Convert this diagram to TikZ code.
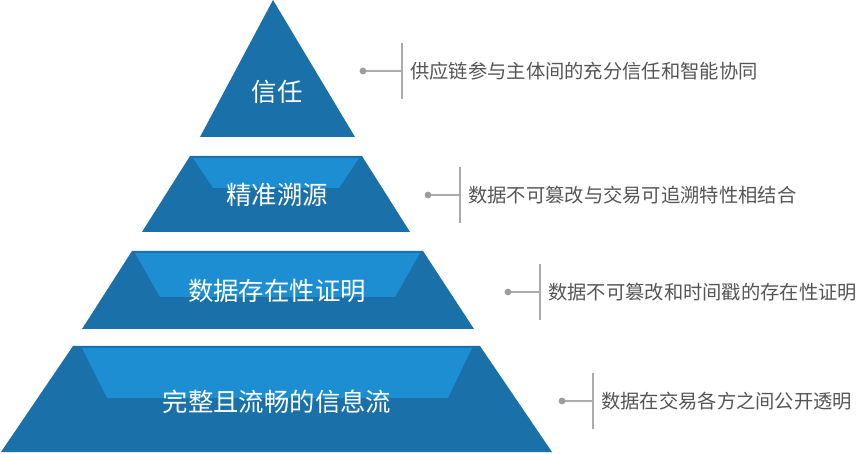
\documentclass[tikz,border=0pt]{standalone}
\usepackage{fontspec}
\usepackage{tikz}
\usetikzlibrary{positioning}
\newfontfamily\cjk{Noto Sans CJK SC}
\definecolor{tierdark}{HTML}{1A70A9}
\definecolor{tierlight}{HTML}{1E8ED2}
\definecolor{linegray}{HTML}{ABABAB}
\definecolor{dotgray}{HTML}{9C9C9C}
\definecolor{descgray}{HTML}{555555}

\begin{document}
\begin{tikzpicture}[x=1pt, y=-1pt,
    tier/.style={fill=tierdark, draw=none},
    band/.style={fill=tierlight, draw=none},
    tierlabel/.style={font=\cjk\fontsize{25.4}{29}\selectfont, text=white, inner sep=0pt},
    desc/.style={font=\cjk\fontsize{19.3}{22}\selectfont, text=descgray, inner sep=0pt},
    leader/.style={draw=linegray, line width=1.3pt},
  ]
  \useasboundingbox (0,0) rectangle (865,454);
  % pyramid tiers
  \fill[tier] (273,0) -- (355,137) -- (200,137) -- cycle;
  \fill[tier] (190,156) -- (362,156) -- (410,232) -- (142,232) -- cycle;
  \fill[band] (193,158) -- (359,158) -- (339,188) -- (213,188) -- cycle;
  \fill[tier] (132,251) -- (423,251) -- (474,329) -- (82,329) -- cycle;
  \fill[band] (135,253) -- (420,253) -- (395,297) -- (160,297) -- cycle;
  \fill[tier] (73,346) -- (480,346) -- (552,452) -- (1,452) -- cycle;
  \fill[band] (82,348) -- (472,348) -- (448,398) -- (107,398) -- cycle;

  \node[tierlabel] (t1) at (277,92)  {信任};
  \node[tierlabel] (t2) at (277,195) {精准溯源};
  \node[tierlabel] (t3) at (277,291) {数据存在性证明};
  \node[tierlabel] (t4) at (277,402) {完整且流畅的信息流};

  % leaders and descriptions
  \coordinate (d1) at (363,71);  \coordinate (b1) at (402,71);
  \coordinate (d2) at (428,195); \coordinate (b2) at (460,195);
  \coordinate (d3) at (508,292); \coordinate (b3) at (540,292);
  \coordinate (d4) at (562,401); \coordinate (b4) at (593,401);

  \node[desc, right=8pt of b1] (n1) {供应链参与主体间的充分信任和智能协同};
  \node[desc, right=8pt of b2] (n2) {数据不可篡改与交易可追溯特性相结合};
  \node[desc, right=8pt of b3] (n3) {数据不可篡改和时间戳的存在性证明};
  \node[desc, right=8pt of b4] (n4) {数据在交易各方之间公开透明};

  \foreach \i in {1,2,3,4} {
    \draw[leader] (d\i) -- (b\i);
    \draw[leader] ([yshift=28pt]b\i) -- ([yshift=-28pt]b\i);
    \fill[dotgray] (d\i) circle (3.4pt);
  }
\end{tikzpicture}
\end{document}
